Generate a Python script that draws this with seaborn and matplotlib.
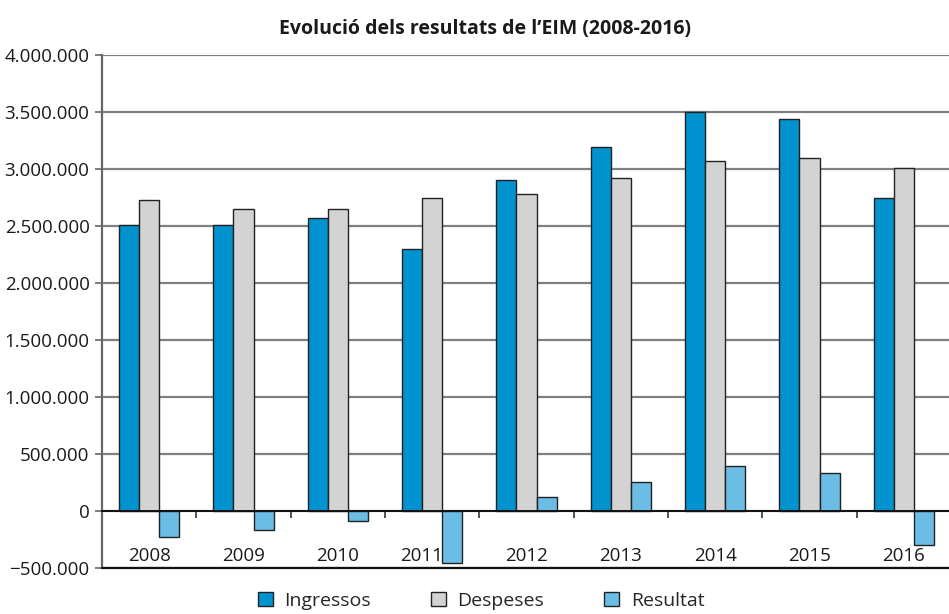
import numpy as np
import pandas as pd
import matplotlib
matplotlib.use("Agg")
import matplotlib.pyplot as plt
import matplotlib.transforms as mtransforms
import seaborn as sns
from matplotlib.ticker import FuncFormatter, MultipleLocator, FixedLocator

# Dades del gràfic (llegides de la imatge)
anys = ['2008', '2009', '2010', '2011', '2012', '2013', '2014', '2015', '2016']
ingressos = [2510000, 2510000, 2570000, 2300000, 2905000, 3195000, 3500000, 3435000, 2750000]
despeses = [2730000, 2650000, 2650000, 2745000, 2780000, 2920000, 3070000, 3100000, 3005000]
resultat = [-226000, -168000, -85000, -453000, 127000, 253000, 395000, 333000, -297000]
series = ['Ingressos', 'Despeses', 'Resultat']
colors = ['#0093d0', '#d3d3d3', '#6bbde6']

df = pd.DataFrame({
    'any': anys * 3,
    'valor': ingressos + despeses + resultat,
    'serie': np.repeat(series, len(anys)),
})

sns.set_theme(style='white')
plt.rcParams['font.family'] = ['Open Sans', 'DejaVu Sans']

fig = plt.figure(figsize=(9.49, 6.14), dpi=100)
ax = fig.add_axes([102 / 949, 46 / 614, 849 / 949, 513 / 614])

sns.barplot(data=df, x='any', y='valor', hue='serie', palette=colors,
            width=0.64, edgecolor='#222222', linewidth=1.0, ax=ax,
            errorbar=None, saturation=1)

handles, labels = ax.get_legend_handles_labels()
ax.legend_.remove()

ax.set_ylim(-500000, 4000000)
ax.set_xlim(-0.5, 8.5)
ax.yaxis.set_major_locator(MultipleLocator(500000))


def fmt(v, pos):
    s = f"{abs(v):,.0f}".replace(',', '.')
    return ('\u2212' + s) if v < 0 else s


ax.yaxis.set_major_formatter(FuncFormatter(fmt))
ax.yaxis.grid(True, color='#808080', linewidth=1.6)
ax.set_axisbelow(True)

ax.spines['top'].set_visible(False)
ax.spines['right'].set_visible(False)
ax.spines['left'].set_color('#666666')
ax.spines['left'].set_linewidth(1.6)
ax.spines['bottom'].set_position(('data', 0))
ax.spines['bottom'].set_color('#111111')
ax.spines['bottom'].set_linewidth(1.4)
ax.axhline(-500000, color='#111111', linewidth=1.6, clip_on=False, zorder=3)

ax.set_xlabel('')
ax.set_ylabel('')
ax.tick_params(axis='y', which='major', left=True, length=5, width=1.2,
               color='#666666', labelsize=13.5, labelcolor='#1a1a1a', pad=4)
ax.tick_params(axis='x', which='major', bottom=False, labelsize=13.5,
               labelcolor='#1a1a1a', pad=20)
ax.xaxis.set_minor_locator(FixedLocator(np.arange(0.5, 8.5, 1.0)))
ax.tick_params(axis='x', which='minor', bottom=True, length=5, width=1.2,
               color='#333333', direction='out')

# l'etiqueta 2011 es desplaça una mica a l'esquerra per no tocar la barra
for lab in ax.get_xticklabels():
    if lab.get_text() == '2011':
        off = mtransforms.ScaledTranslation(-11 / 100, 0, fig.dpi_scale_trans)
        lab.set_transform(lab.get_transform() + off)

fig.text(0.511, 0.953, 'Evolució dels resultats de l\u2019EIM (2008-2016)',
         ha='center', va='center', fontsize=14, fontweight='bold', color='#1a1a1a')

fig.legend(handles, labels, loc='lower center', bbox_to_anchor=(0.507, -0.022),
           ncol=3, frameon=False, fontsize=14, handlelength=0.75, handleheight=0.75,
           handletextpad=0.6, columnspacing=3.1)

fig.savefig('out.png', dpi=100)
